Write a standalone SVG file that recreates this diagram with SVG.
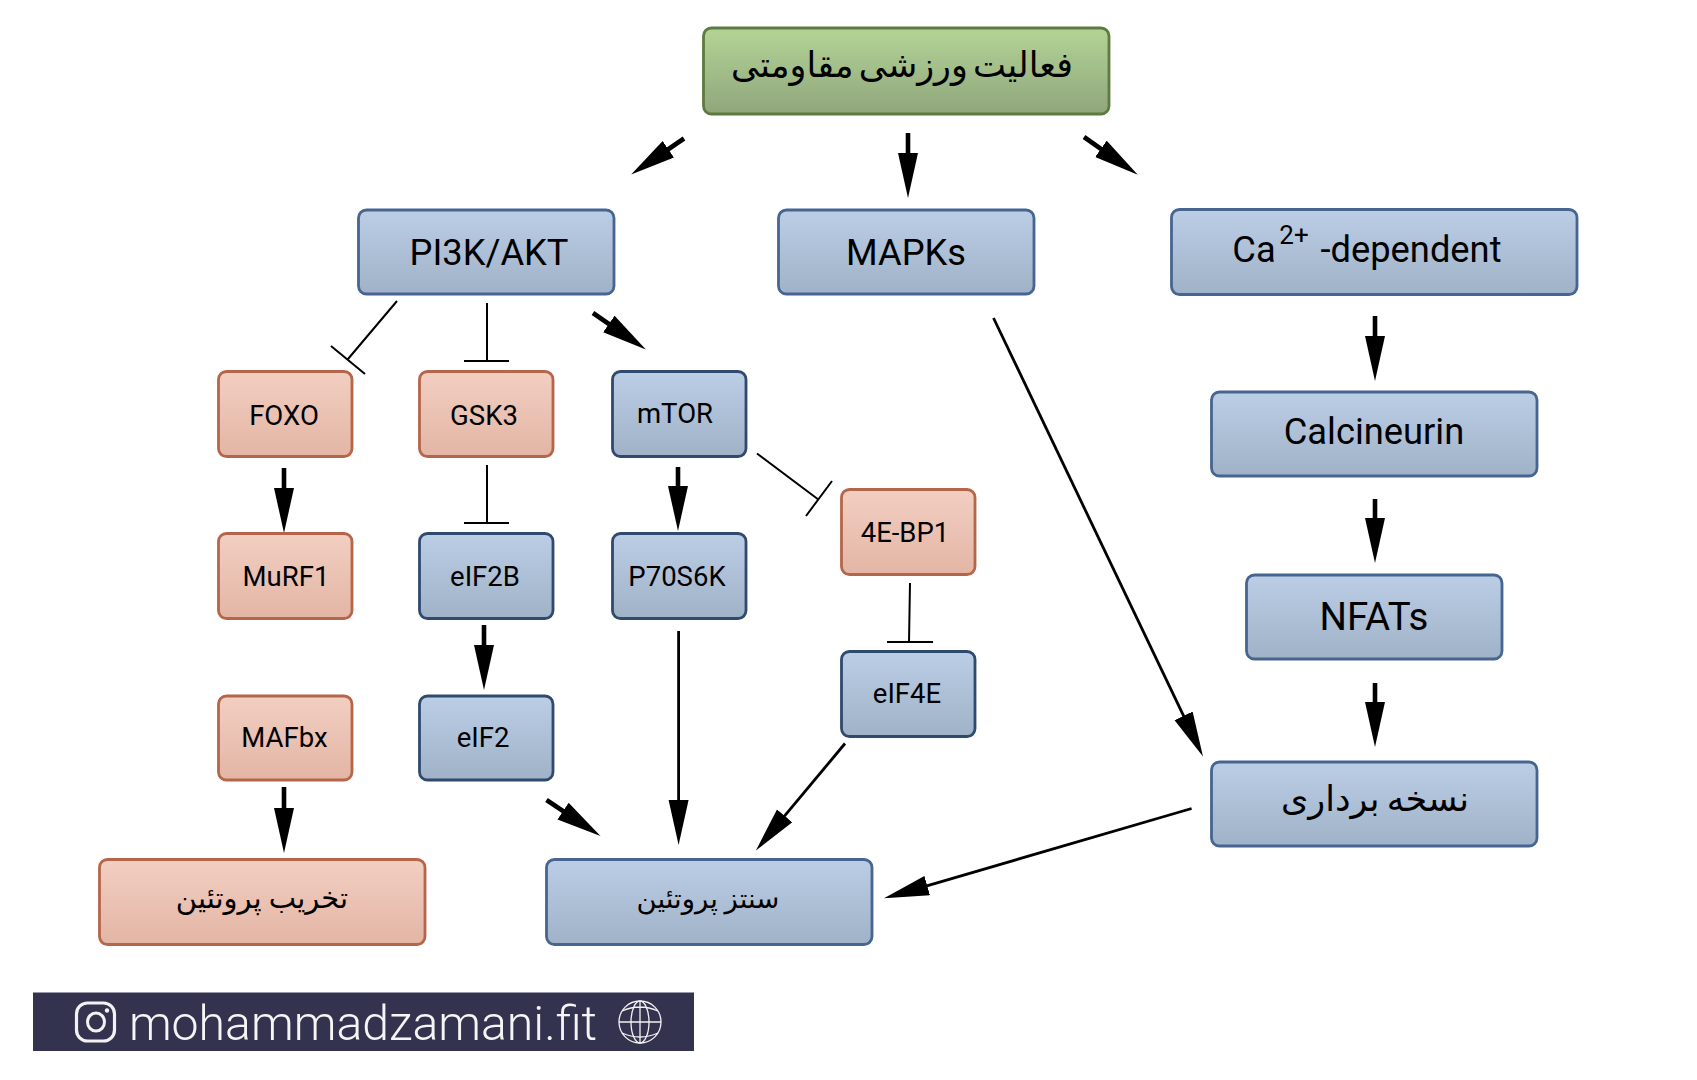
<svg xmlns="http://www.w3.org/2000/svg" width="1697" height="1080" viewBox="0 0 1697 1080">
<style>
text{font-family:Roboto,"Liberation Sans",sans-serif;fill:#000;text-anchor:middle}
.fa{font-family:"DejaVu Sans","Noto Sans",sans-serif;direction:rtl}
.b{fill:url(#gb);stroke:#466591;stroke-width:2.8}
.bd{fill:url(#gb);stroke:#2f4a6d;stroke-width:2.8}
.r{fill:url(#gr);stroke:#b5654a;stroke-width:2.8}
.g{fill:url(#gg);stroke:#5d7b3f;stroke-width:2.8}
.lg{font-size:36.3px}
.sm{font-size:27.5px}
.thick{stroke:#000;stroke-width:4.6;fill:none;marker-end:url(#ah)}
.thin{stroke:#000;stroke-width:2.8;fill:none;marker-end:url(#ah)}
.tee{stroke:#000;stroke-width:2;fill:none}
.ic{fill:none;stroke:#f2f2f2}
</style>
<defs>
<linearGradient id="gb" x1="0" y1="0" x2="0" y2="1"><stop offset="0" stop-color="#bccee6"/><stop offset="1" stop-color="#a0b2c7"/></linearGradient>
<linearGradient id="gr" x1="0" y1="0" x2="0" y2="1"><stop offset="0" stop-color="#f2cfc2"/><stop offset="1" stop-color="#e3b5a4"/></linearGradient>
<linearGradient id="gg" x1="0" y1="0" x2="0" y2="1"><stop offset="0" stop-color="#b3d496"/><stop offset="1" stop-color="#90a67c"/></linearGradient>
<marker id="ah" markerUnits="userSpaceOnUse" markerWidth="46" markerHeight="22" refX="20" refY="10" orient="auto" viewBox="0 0 46 22"><path d="M0 0L45 10L0 20Z" fill="#000"/></marker>
</defs>
<rect width="1697" height="1080" fill="#fff"/>
<g id="connectors">
<line class="thick" x1="684" y1="138.5" x2="651.8" y2="160.5"/>
<line class="thick" x1="908" y1="133" x2="908" y2="173"/>
<line class="thick" x1="1084" y1="137" x2="1117.3" y2="160.300"/>
<line class="thick" x1="593" y1="313" x2="625.3" y2="335.300"/>
<line class="thick" x1="284" y1="468" x2="284" y2="508"/>
<line class="thick" x1="678" y1="467" x2="678" y2="506"/>
<line class="thick" x1="484" y1="625" x2="484" y2="665"/>
<line class="thin" x1="678.6" y1="631" x2="678.6" y2="820"/>
<line class="thin" x1="845" y1="743.5" x2="771.9" y2="831.2"/>
<line class="thick" x1="546.5" y1="800" x2="579.7" y2="822.2"/>
<line class="thick" x1="284" y1="787" x2="284" y2="828"/>
<line class="thin" x1="993.5" y1="318" x2="1192.2" y2="733.9"/>
<line class="thin" x1="1191.6" y1="808.5" x2="908" y2="891.3"/>
<line class="thick" x1="1375" y1="316" x2="1375" y2="356"/>
<line class="thick" x1="1375" y1="499" x2="1375" y2="538"/>
<line class="thick" x1="1375" y1="683" x2="1375" y2="722"/>
<path class="tee" d="M397 301L348 359M331 346L365 374"/>
<path class="tee" d="M487 303L487 361M464 361H509"/>
<path class="tee" d="M487 465L487 523M464 523H509"/>
<path class="tee" d="M757 453.5L819 500M832 481L806 516"/>
<path class="tee" d="M910 583L909 642M887 642H933"/>
</g>
<g id="n-top"><rect class="g" x="703.500" y="28" width="405.500" height="86" rx="8"/><text class="fa" x="902" y="77" font-size="35" word-spacing="-6">فعالیت ورزشی مقاومتی</text></g>
<g id="n-pi3k"><rect class="b" x="358.500" y="210" width="255.500" height="84" rx="8"/><text class="lg" x="489" y="265">PI3K/AKT</text></g>
<g id="n-mapk"><rect class="b" x="778.500" y="210" width="255.500" height="84" rx="8"/><text class="lg" x="906" y="265">MAPKs</text></g>
<g id="n-ca"><rect class="b" x="1171.500" y="209.500" width="405.500" height="85" rx="8"/><text class="lg" x="1254" y="262">Ca</text><text x="1294" y="244" font-size="26">2+</text><text class="lg" x="1411" y="262">-dependent</text></g>
<g id="n-cal"><rect class="b" x="1211.500" y="392" width="325.500" height="84" rx="8"/><text class="lg" x="1374" y="444">Calcineurin</text></g>
<g id="n-nfat"><rect class="b" x="1246.500" y="575" width="255.500" height="84" rx="8"/><text x="1374" y="630" font-size="38.5">NFATs</text></g>
<g id="n-trans"><rect class="b" x="1211.500" y="762" width="325.500" height="84" rx="8"/><text class="fa" x="1375" y="811" font-size="35" word-spacing="-4">نسخه برداری</text></g>
<g id="n-foxo"><rect class="r" x="218.500" y="371.500" width="133.500" height="85" rx="8"/><text class="sm" x="284" y="425">FOXO</text></g>
<g id="n-gsk3"><rect class="r" x="419.500" y="371.500" width="133.500" height="85" rx="8"/><text class="sm" x="484" y="425">GSK3</text></g>
<g id="n-mtor"><rect class="bd" x="612.500" y="371.500" width="133.500" height="85" rx="8"/><text class="sm" x="675" y="423">mTOR</text></g>
<g id="n-murf"><rect class="r" x="218.500" y="533.500" width="133.500" height="85" rx="8"/><text class="sm" x="286" y="586">MuRF1</text></g>
<g id="n-eif2b"><rect class="bd" x="419.500" y="533.500" width="133.500" height="85" rx="8"/><text class="sm" x="485" y="586">eIF2B</text></g>
<g id="n-p70"><rect class="bd" x="612.500" y="533.500" width="133.500" height="85" rx="8"/><text class="sm" x="677" y="586">P70S6K</text></g>
<g id="n-4e"><rect class="r" x="841.500" y="489.500" width="133.500" height="85" rx="8"/><text class="sm" x="905" y="542">4E-BP1</text></g>
<g id="n-eif4e"><rect class="bd" x="841.500" y="651.500" width="133.500" height="85" rx="8"/><text class="sm" x="907" y="703">eIF4E</text></g>
<g id="n-mafbx"><rect class="r" x="218.500" y="696" width="133.500" height="84" rx="8"/><text class="sm" x="284.500" y="747">MAFbx</text></g>
<g id="n-eif2"><rect class="bd" x="419.500" y="696" width="133.500" height="84" rx="8"/><text class="sm" x="483" y="747">eIF2</text></g>
<g id="n-deg"><rect class="r" x="99.500" y="859.500" width="325.500" height="85" rx="8"/><text class="fa" x="262" y="908" font-size="29" word-spacing="-2">تخریب پروتئین</text></g>
<g id="n-syn"><rect class="b" x="546.500" y="859.500" width="325.500" height="85" rx="8"/><text class="fa" x="708" y="908" font-size="27.500" word-spacing="-2">سنتز پروتئین</text></g>
<g id="banner">
<rect x="33" y="992.5" width="661" height="58.5" fill="#33324f"/>
<rect class="ic" x="76.500" y="1003" width="38" height="38" rx="11" stroke-width="3.200"/>
<ellipse class="ic" cx="96" cy="1022" rx="8.500" ry="9" stroke-width="3"/>
<circle cx="107" cy="1010.500" r="2.200" fill="#f2f2f2"/>
<text x="363" y="1040" font-size="48.200" font-weight="300" style="fill:#f5f5f5">mohammadzamani.fit</text>
<g class="ic" stroke-width="1.300"><ellipse cx="640" cy="1022" rx="21" ry="21"/><ellipse cx="640" cy="1022" rx="9" ry="21"/><path d="M640 1001V1043M619 1022H661M622 1011Q640 1003 658 1011M622 1033Q640 1041 658 1033"/></g>
</g>
</svg>
